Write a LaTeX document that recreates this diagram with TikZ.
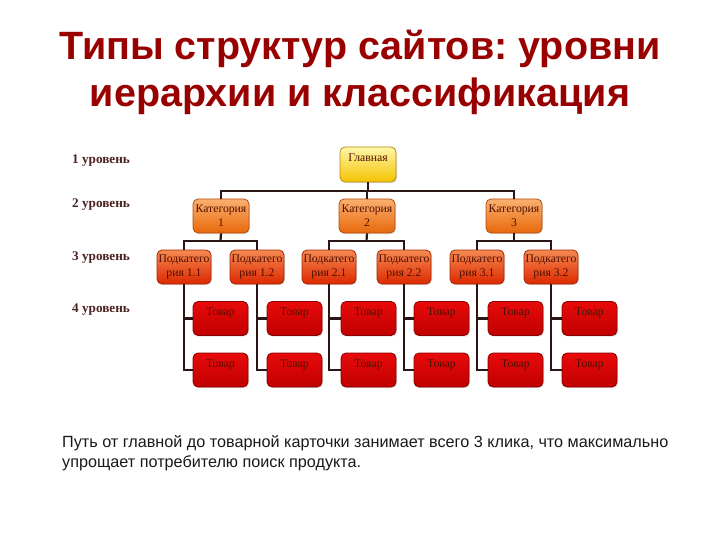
\documentclass[tikz,border=0pt]{standalone}
\usepackage{fontspec}
\setmainfont{Liberation Serif}
\newfontfamily\sansf{Liberation Sans}
\usetikzlibrary{shadows}
\frenchspacing
\definecolor{titlered}{HTML}{990000}
\definecolor{lvl}{HTML}{4B2020}
\definecolor{wire}{HTML}{2B1515}
\definecolor{ytop}{HTML}{FFF6A8}
\definecolor{ybot}{HTML}{F4C300}
\definecolor{ydraw}{HTML}{B08E10}
\definecolor{otop}{HTML}{FBB070}
\definecolor{obot}{HTML}{E8680A}
\definecolor{odraw}{HTML}{B04E10}
\definecolor{stop}{HTML}{F58A50}
\definecolor{sbot}{HTML}{DD2800}
\definecolor{sdraw}{HTML}{A02808}
\definecolor{ttop}{HTML}{E80A0A}
\definecolor{tbot}{HTML}{C00000}
\definecolor{tdraw}{HTML}{8A0000}
\definecolor{btext}{HTML}{501000}
\tikzset{
  box/.style={rectangle, rounded corners=5pt, line width=0.8pt, inner sep=0pt,
    drop shadow={shadow xshift=1pt, shadow yshift=-1.2pt, opacity=0.25},
    font=\fontsize{11.7}{14}\selectfont, text=btext, align=center},
  gbox/.style={box, top color=ytop, bottom color=ybot, draw=ydraw, minimum width=56pt, minimum height=35pt},
  cbox/.style={box, top color=otop, bottom color=obot, draw=odraw, minimum width=56pt, minimum height=34pt},
  sbox/.style={box, top color=stop, bottom color=sbot, draw=sdraw, minimum width=54pt, minimum height=34pt},
  tbox/.style={box, top color=ttop, bottom color=tbot, draw=tdraw, minimum width=55pt, minimum height=34pt},
  toptext/.style={anchor=north, inner sep=0pt, font=\fontsize{11.7}{14}\selectfont, text=btext, yshift=-7pt},
  lvllabel/.style={anchor=west, inner sep=0pt, font=\bfseries\fontsize{13.2}{15}\selectfont, text=lvl},
  wirestyle/.style={draw=wire, line width=2.2pt},
  title/.style={inner sep=0pt, font=\sansf\bfseries\fontsize{39.5}{47.5}\selectfont, text=titlered, align=center},
  note/.style={anchor=north west, inner sep=0pt, font=\sansf\fontsize{16.2}{20.5}\selectfont, text=black!90, align=left}
}
\begin{document}
\begin{tikzpicture}[x=1pt, y=-1pt]
\useasboundingbox (0,0) rectangle (720,540);
\node[title] (ttl) at (360,72.5) {Типы структур сайтов: уровни\\иерархии и классификация};

\node[lvllabel] (l1) at (72,161) {1 уровень};
\node[lvllabel] (l2) at (72,205) {2 уровень};
\node[lvllabel] (l3) at (72,258) {3 уровень};
\node[lvllabel] (l4) at (72,310) {4 уровень};

\coordinate (b0) at (368,191);
\coordinate (b1) at (220.5,241);
\coordinate (b2) at (366.5,241);
\coordinate (b3) at (514,241);

\node[gbox] (g) at (368,164.5) {};
\node[toptext] (gt) at (g.north) {Главная};

\node[cbox] (c1) at (221,216) {Категория\\1};
\node[cbox] (c2) at (367,216) {Категория\\2};
\node[cbox] (c3) at (514,216) {Категория\\3};

\node[sbox] (s11) at (184,267) {Подкатего\\рия 1.1};
\node[sbox] (s12) at (257,267) {Подкатего\\рия 1.2};
\node[sbox] (s21) at (329,267) {Подкатего\\рия 2.1};
\node[sbox] (s22) at (404,267) {Подкатего\\рия 2.2};
\node[sbox] (s31) at (477,267) {Подкатего\\рия 3.1};
\node[sbox] (s32) at (551,267) {Подкатего\\рия 3.2};

\foreach \s/\x in {s11/220.5, s12/294.5, s21/368.5, s22/441.5, s31/515.5, s32/589.5}{
  \node[tbox] (\s a) at (\x,318.5) {};
  \node[toptext] (\s at) at (\s a.north) {Товар};
  \node[tbox] (\s b) at (\x,370) {};
  \node[toptext] (\s bt) at (\s b.north) {Товар};
}

\draw[wirestyle] (g.south) -- (b0);
\draw[wirestyle] (c1.north) |- (b0) -| (c3.north);
\draw[wirestyle] (c2.north) -- (c2.north |- b0);

\draw[wirestyle] (c1.south) -- (b1);
\draw[wirestyle] (s11.north) |- (b1) -| (s12.north);
\draw[wirestyle] (c2.south) -- (b2);
\draw[wirestyle] (s21.north) |- (b2) -| (s22.north);
\draw[wirestyle] (c3.south) -- (b3);
\draw[wirestyle] (s31.north) |- (b3) -| (s32.north);

\foreach \s in {s11,s12,s21,s22,s31,s32}{
  \draw[wirestyle] (\s.south) |- (\s b.west);
  \draw[wirestyle] (\s.south |- \s a.west) -- (\s a.west);
}

\node[note] (nt) at (62,435) {Путь от главной до товарной карточки занимает всего 3 клика, что максимально\\упрощает потребителю поиск продукта.};
\end{tikzpicture}
\end{document}
